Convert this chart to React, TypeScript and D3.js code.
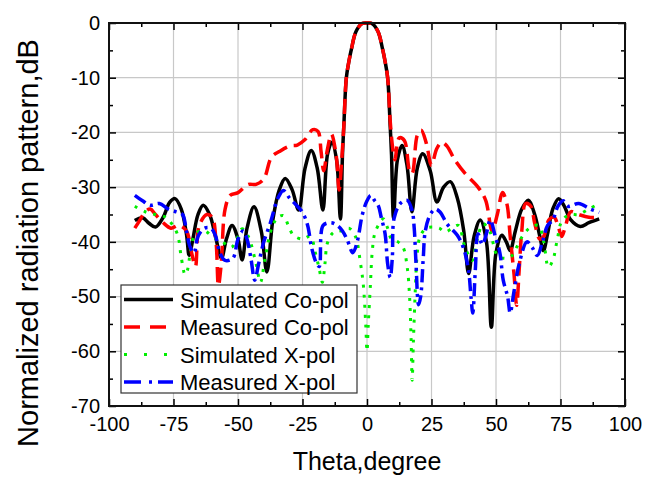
import React, { useEffect, useRef } from 'react'
import * as d3 from 'd3'

// [theta (degree), level (dB)]
const simCoPol: [number, number][] = [
  [-90, -36.1], [-87, -35.6], [-84.5, -36.6], [-82, -37.3], [-79, -35.5], [-76.5, -32.8],
  [-74.4, -32.1], [-72, -34], [-70, -38.5], [-68.9, -42.5], [-67.5, -39.5], [-65.5, -35],
  [-63.5, -33.3], [-61, -35], [-58.5, -39.5], [-56.4, -43], [-54.5, -39.5], [-52.3, -37],
  [-50, -39.5], [-48.4, -43.3], [-46.5, -37.5], [-43.8, -33.6], [-41, -38], [-38.8, -45.5],
  [-36.5, -36], [-34, -30.5], [-31.7, -28.4], [-29, -30.5], [-26.5, -34.2], [-24, -26.5],
  [-21.6, -23.3], [-19.3, -26.5], [-17.1, -34.2], [-15.3, -24], [-13.6, -21.8], [-11.8, -25],
  [-10.3, -35.8], [-9.5, -24], [-9, -19], [-8, -10], [-7, -7], [-6, -4.7], [-4.3, -1.6],
  [-1.9, -0.1], [0, 0], [1.9, -0.1], [4.3, -1.6], [6, -4.7], [7, -7], [8, -10], [9, -19],
  [9.5, -24], [10.3, -35.7], [11.8, -25], [13.6, -22.4], [15.5, -26], [17.4, -34.5],
  [19.5, -26.5], [21.6, -23.9], [24.5, -27], [27.1, -32.7], [29.7, -30], [32.3, -29],
  [35, -32], [37.5, -38], [39.4, -45.8], [41.5, -39], [43.9, -36], [46.3, -40], [48.2, -55.6],
  [50, -42], [52.3, -38.8], [54, -40], [55.5, -41.6], [57.5, -38], [60, -34], [62.6, -32.4],
  [65, -35], [67, -39], [68.4, -41.6], [70, -38.5], [72, -34], [74.3, -32.1], [76.5, -33.5],
  [79, -36], [82.7, -37.2], [86, -36.5], [90, -35.8],
]

const measCoPol: [number, number][] = [
  [-90, -37.5], [-88, -36], [-86, -34.5], [-84, -34], [-82, -35], [-79, -36.5], [-76, -37.5],
  [-73, -37], [-70, -38], [-68, -42], [-66.5, -44.5], [-65, -37], [-62, -35], [-60, -35.5],
  [-58.5, -40], [-57.6, -48], [-56.5, -44], [-55, -34], [-53, -31.5], [-50, -31], [-46, -29.5],
  [-43, -29.5], [-40, -28.5], [-37, -24.5], [-34, -23.5], [-30, -22.5], [-27, -22.3],
  [-24, -21.3], [-21, -19.5], [-19, -19.8], [-17.8, -23.5], [-16.8, -27], [-15.3, -23],
  [-13.8, -20.3], [-12, -24], [-10.8, -30.5], [-9.8, -25], [-9, -19], [-8, -10], [-7, -7],
  [-6, -4.7], [-4.3, -1.6], [-1.9, -0.1], [0, 0], [1.9, -0.1], [4.3, -1.6], [6, -4.7],
  [7, -7], [8, -10], [9, -18], [10, -23], [10.8, -25], [12.5, -21], [14.5, -21.5],
  [16.5, -27], [17.5, -27.5], [19.5, -20.5], [21, -19.6], [23, -22], [25, -26], [27, -23],
  [29, -21.8], [31, -22.5], [34, -25], [38, -27.5], [43, -30], [46, -32.4], [48.5, -38],
  [50.5, -35], [52.5, -31], [54.2, -33], [55.5, -39], [57, -46], [58, -51.6], [59, -45],
  [60, -38], [61.5, -33], [63.5, -33.5], [65, -36.6], [67, -39.5], [68.5, -39], [70.5, -36],
  [72.5, -35.5], [74, -37], [75.5, -39], [77, -37], [79, -34.5], [82, -35], [86, -35.5],
  [90, -35.5],
]

const simXPol: [number, number][] = [
  [-90, -33.5], [-86, -34.5], [-82, -35], [-78, -35.5], [-76, -36.5], [-74, -38], [-73, -39.5],
  [-72, -42.8], [-70.5, -46], [-69.5, -45], [-68.5, -42], [-66.5, -38.5], [-63, -38],
  [-60, -39], [-56, -40], [-52.6, -41], [-50, -39], [-48.4, -37.6], [-46, -39], [-43, -44],
  [-41.3, -47.4], [-39.5, -43], [-36.8, -37.3], [-34.5, -35.5], [-32.4, -35.2], [-30.5, -37],
  [-28.5, -38.8], [-25, -39.5], [-22, -39], [-20, -42], [-18.5, -45], [-17.3, -47.4],
  [-16.3, -44], [-15.4, -40.3], [-13.5, -38.5], [-11.5, -38], [-9, -38], [-7, -37.5],
  [-4.5, -39], [-2.5, -44], [-1.4, -48], [-0.5, -55], [0, -60], [0.5, -55], [1.3, -48],
  [2, -42], [3, -38.5], [5, -36.5], [6.4, -35.8], [8, -37.5], [9.5, -39.5], [12, -40],
  [14, -41], [15.6, -44.7], [16.5, -50], [17.1, -58], [17.5, -65.3], [18, -58], [18.8, -48],
  [19.5, -42], [20.6, -39], [23, -37.5], [25.3, -37.3], [28, -37.5], [30.3, -38.2], [33, -37.5],
  [35.4, -37], [38, -41], [40.8, -43.4], [42.5, -40], [45, -36.7], [47.5, -38], [50.5, -42.5],
  [53, -43], [55.6, -42.8], [58, -41], [60.2, -39], [63, -37.5], [66.4, -37], [68.5, -40],
  [70.3, -44.6], [72, -43.4], [73.7, -39.7], [75.7, -36], [79, -35], [82, -35], [86, -34],
  [90, -33],
]

const measXPol: [number, number][] = [
  [-90, -31.5], [-87, -32.5], [-84, -33.3], [-80.5, -33], [-77, -34], [-74, -34.5],
  [-71.5, -35], [-70, -38], [-68.5, -41], [-67, -42], [-65.5, -39], [-63, -37.5],
  [-60.5, -37.5], [-58.8, -38.8], [-57, -42], [-55, -43.4], [-52, -43], [-50, -39.5],
  [-48, -38], [-46.5, -39.5], [-45, -43], [-43.5, -47], [-42, -44], [-40, -40], [-37.5, -36.6],
  [-34.5, -32], [-32.4, -30.6], [-30, -32], [-27, -33.5], [-25, -34.6], [-23, -37],
  [-21.5, -41], [-19.5, -44], [-18.5, -44.5], [-17, -37], [-14, -36.5], [-11.5, -37],
  [-9.5, -38], [-7.6, -39.7], [-5.5, -42], [-3.8, -40], [-1.8, -35], [0, -32.5], [1.5, -31.5],
  [3, -32.5], [4.4, -33.4], [5.5, -35.5], [7, -38.5], [8, -44], [9, -46.5], [9.8, -43],
  [10.5, -35.7], [12.9, -33], [15.6, -32.4], [17.5, -34.3], [18.3, -37.5], [19, -44],
  [20, -51.5], [20.8, -50], [21.8, -43], [22.6, -38], [24.5, -35], [26.5, -34], [28.4, -34.6],
  [31, -36.7], [35, -38.8], [37.3, -41], [39.3, -45], [40.3, -50], [41, -53], [42, -45],
  [43, -38.5], [44.7, -40.5], [46, -39], [47.8, -36], [49.7, -39], [51.5, -42], [52.8, -47],
  [54.5, -50], [55.5, -53], [57, -49], [59, -44], [62, -40], [64, -41], [66, -42.5],
  [68, -40], [70, -37], [72, -36], [74, -33.5], [76, -32.5], [78, -33.5], [82, -33],
  [86.6, -34], [90, -34.6],
]

const seriesNames = ['Simulated Co-pol', 'Measured Co-pol', 'Simulated X-pol', 'Measured X-pol']
const xTicks = [-100, -75, -50, -25, 0, 25, 50, 75, 100]
const yTicks = [0, -10, -20, -30, -40, -50, -60, -70]

const App = () => {
  const svgRef = useRef(null)

  useEffect(() => {
    const margin = { top: 23, right: 20, bottom: 71, left: 109 }
    const W = 645
    const H = 477
    const width = W - margin.left - margin.right
    const height = H - margin.top - margin.bottom
    const font = '"Liberation Sans", Arial, sans-serif'
    const plain = (d) => String(d) // hyphen minus, like the original

    const root = d3.select(svgRef.current)
    root.selectAll('*').remove()
    root.attr('width', W).attr('height', H)

    const svg = root.append('g').attr('transform', `translate(${margin.left}, ${margin.top})`)

    const x = d3.scaleLinear().domain([-100, 100]).range([0, width])
    const y = d3.scaleLinear().domain([-70, 0]).range([height, 0])

    // grid
    svg
      .selectAll('.gx')
      .data(xTicks.slice(1, -1))
      .enter()
      .append('line')
      .attr('x1', (d) => x(d))
      .attr('x2', (d) => x(d))
      .attr('y1', 0)
      .attr('y2', height)
      .style('stroke', '#c8c8c8')
      .style('stroke-width', 1.2)
    svg
      .selectAll('.gy')
      .data(yTicks.slice(1, -1))
      .enter()
      .append('line')
      .attr('x1', 0)
      .attr('x2', width)
      .attr('y1', (d) => y(d))
      .attr('y2', (d) => y(d))
      .style('stroke', '#c8c8c8')
      .style('stroke-width', 1.2)

    // curves
    const line = d3
      .line<[number, number]>()
      .x((d) => x(d[0]))
      .y((d) => y(d[1]))
      .curve(d3.curveCatmullRom.alpha(0.5))

    const styles = [
      { color: '#000000', dash: null, w: 3.5 },
      { color: '#ff0000', dash: '15,7', w: 3.5 },
      { color: '#00ee00', dash: '3,7', w: 3 },
      { color: '#0000ff', dash: '13,5,3,5', w: 3.5 },
    ]
    const allData = [simCoPol, measCoPol, simXPol, measXPol]

    allData.forEach((data, i) => {
      svg
        .append('path')
        .datum(data)
        .attr('d', line)
        .style('fill', 'none')
        .style('stroke', styles[i].color)
        .style('stroke-width', styles[i].w)
        .style('stroke-dasharray', styles[i].dash)
        .style('stroke-linejoin', 'round')
    })

    // axes with inward ticks
    const minorX = d3.range(-87.5, 100, 25)
    const minorY = d3.range(-65, 0, 10)

    const bottom = svg
      .append('g')
      .attr('transform', `translate(0, ${height})`)
      .call(d3.axisBottom(x).tickValues(xTicks).tickSizeInner(-7).tickSizeOuter(0).tickPadding(11).tickFormat(plain))
    svg.append('g').call(d3.axisTop(x).tickValues(xTicks).tickSizeInner(-7).tickSizeOuter(0).tickFormat(() => ''))
    const left = svg
      .append('g')
      .call(d3.axisLeft(y).tickValues(yTicks).tickSizeInner(-7).tickSizeOuter(0).tickPadding(9).tickFormat(plain))
    svg
      .append('g')
      .attr('transform', `translate(${width}, 0)`)
      .call(d3.axisRight(y).tickValues(yTicks).tickSizeInner(-7).tickSizeOuter(0).tickFormat(() => ''))

    svg.append('g').attr('transform', `translate(0, ${height})`).call(d3.axisBottom(x).tickValues(minorX).tickSize(-4).tickFormat(() => ''))
    svg.append('g').call(d3.axisTop(x).tickValues(minorX).tickSize(-4).tickFormat(() => ''))
    svg.append('g').call(d3.axisLeft(y).tickValues(minorY).tickSize(-4).tickFormat(() => ''))
    svg.append('g').attr('transform', `translate(${width}, 0)`).call(d3.axisRight(y).tickValues(minorY).tickSize(-4).tickFormat(() => ''))

    svg.selectAll('.domain').remove()
    svg.selectAll('.tick line').style('stroke', '#000').style('stroke-width', 1.5)
    ;[bottom, left].forEach((g) =>
      g.selectAll('text').style('font-family', font).style('font-size', '20px').style('fill', '#000')
    )

    // frame
    svg
      .append('rect')
      .attr('width', width)
      .attr('height', height)
      .style('fill', 'none')
      .style('stroke', '#111')
      .style('stroke-width', 2)

    // axis titles
    svg
      .append('text')
      .text('Theta,degree')
      .attr('text-anchor', 'middle')
      .attr('x', width / 2)
      .attr('y', height + 64)
      .style('font-family', font)
      .style('font-size', '25px')

    svg
      .append('text')
      .text('Normalized radiation pattern,dB')
      .attr('text-anchor', 'middle')
      .attr('transform', `translate(${38 - margin.left}, ${243 - margin.top}) rotate(-90)`)
      .style('font-family', font)
      .style('font-size', '29px')

    // legend
    const lg = svg.append('g').attr('transform', `translate(${121 - margin.left}, ${285 - margin.top})`)
    lg.append('rect')
      .attr('width', 236)
      .attr('height', 108)
      .style('fill', '#fff')
      .style('stroke', '#333')
      .style('stroke-width', 1.2)

    const legendDash = [null, '16,10', '3,17', '17,8,3,6']
    const row = lg
      .selectAll('.legend')
      .data(seriesNames)
      .enter()
      .append('g')
      .attr('class', 'legend')
      .attr('transform', (d, i) => `translate(0, ${14.5 + i * 27.5})`)

    row
      .append('line')
      .attr('x1', 3)
      .attr('x2', 52)
      .style('stroke', (d, i) => styles[i].color)
      .style('stroke-width', (d, i) => styles[i].w)
      .style('stroke-dasharray', (d, i) => legendDash[i])

    row
      .append('text')
      .text((d) => d)
      .attr('x', 59)
      .attr('y', 8)
      .style('font-family', font)
      .style('font-size', '22px')
  }, [])

  return <svg ref={svgRef} style={{ position: 'absolute', left: 0, top: 0 }}></svg>
}

export default App
